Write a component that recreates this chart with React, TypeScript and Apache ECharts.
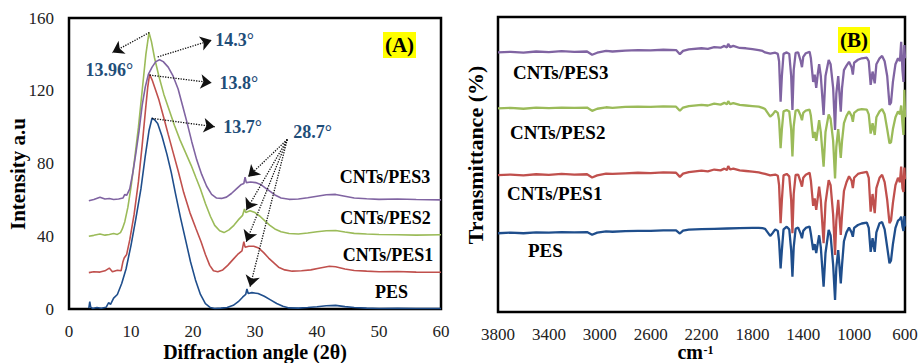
import React, { useEffect, useRef } from "react";
import * as echarts from "echarts";

// ---------- Panel A: XRD (angle 2θ, intensity a.u.) ----------
const xrdPES: [number, number][] = [
  [3.2, 0.5], [3.35, 4], [3.5, 1], [3.8, 0.3], [4.5, 0.8], [5.2, 0.4], [6.0, 1], [6.4, 3.5], [6.7, 2.5],
  [7.2, 6], [7.8, 8], [8.5, 14], [9.2, 22], [10.0, 35], [10.8, 50], [11.6, 66], [12.3, 84], [12.9, 98],
  [13.4, 105], [13.8, 104], [14.3, 102], [15.0, 95], [15.8, 85], [16.5, 75], [17.2, 63], [18.0, 50],
  [18.8, 38], [19.6, 26], [20.4, 16], [21.2, 8], [22.0, 3], [22.8, 0.8], [23.5, 0.3], [24.5, 0.5],
  [25.5, 0.8], [26.5, 2], [27.3, 4], [28.0, 6.5], [28.5, 8], [28.7, 11], [28.9, 8.5], [29.5, 9],
  [30.5, 8.5], [31.5, 7], [32.5, 5], [33.5, 3], [34.5, 1.5], [35.5, 0.6], [37, 0.5], [38.5, 0.8],
  [40, 1.2], [41.5, 1.8], [43, 2], [44.5, 1.3], [46, 0.8], [48, 0.5], [50, 0.3], [53, 0.4], [56, 0.3], [60, 0.3],
];
const xrdPES1: [number, number][] = [
  [3.2, 20], [4, 20.5], [5, 20.3], [5.8, 21], [6.5, 22.5], [7, 20.5], [7.8, 21.3], [8.4, 21], [8.7, 26],
  [8.9, 28], [9.3, 30], [9.8, 38], [10.5, 52], [11.2, 70], [11.8, 90], [12.3, 108], [12.7, 122], [13.0, 129],
  [13.4, 126], [13.8, 122], [14.5, 115], [15.3, 105], [16.0, 96], [16.8, 86], [17.6, 76], [18.5, 64],
  [19.5, 53], [20.5, 44], [21.3, 37], [22.0, 30], [22.7, 24], [23.3, 21], [24.0, 20.5], [24.8, 21.5],
  [25.6, 24], [26.4, 27], [27.2, 30], [27.9, 32], [28.2, 37], [28.4, 34], [29.0, 34.5], [29.8, 34.5],
  [30.6, 33.5], [31.4, 31], [32.2, 28], [33.0, 25.5], [33.8, 23], [34.8, 21.5], [36, 20.8], [37.5, 21],
  [39, 21.5], [40.5, 22.5], [42, 23.5], [43, 23.2], [44.5, 22], [46, 21.2], [48, 20.8], [50, 20.5],
  [53, 20.6], [56, 20.3], [60, 20.2],
];
const xrdPES2: [number, number][] = [
  [3.2, 40], [4, 40.5], [5, 41.2], [5.8, 40.6], [6.5, 41], [7.2, 41.5], [7.8, 41], [8.3, 42], [8.6, 44],
  [9.0, 48], [9.5, 56], [10.0, 67], [10.6, 83], [11.2, 100], [11.8, 120], [12.4, 140], [12.9, 152],
  [13.3, 147], [13.8, 138], [14.5, 128], [15.3, 118], [16.2, 109], [17.0, 101], [17.9, 93], [18.8, 86],
  [19.7, 79], [20.5, 72], [21.2, 66], [22.0, 58], [22.8, 51], [23.5, 46], [24.3, 43], [25.0, 42],
  [25.8, 43.5], [26.6, 46], [27.3, 49], [28.0, 51.5], [28.3, 55], [28.5, 53], [29.2, 54], [30.0, 53],
  [30.8, 51], [31.6, 48.5], [32.4, 46], [33.2, 44], [34.2, 42.5], [35.5, 41.5], [37, 41.2], [38.5, 41.8],
  [40, 42.5], [41.5, 43], [43, 43.2], [44.5, 42.3], [46, 41.6], [48, 41.2], [50, 41], [53, 40.8],
  [56, 40.6], [60, 40.8],
];
const xrdPES3: [number, number][] = [
  [3.2, 59.5], [4, 60.2], [5, 61.5], [5.8, 60.5], [6.5, 60.8], [7.2, 60.2], [8, 60.5], [8.7, 61], [9.0, 63],
  [9.3, 62.5], [9.8, 66], [10.3, 75], [10.8, 86], [11.3, 98], [11.8, 112], [12.3, 122], [12.8, 129],
  [13.4, 133], [14.0, 136], [14.6, 137], [15.2, 136], [16.0, 133], [16.8, 128], [17.6, 121], [18.3, 112],
  [19.0, 103], [19.8, 92], [20.6, 82], [21.4, 74], [22.2, 67.5], [23.0, 63], [23.8, 61], [24.6, 60.8],
  [25.4, 61.5], [26.2, 63.5], [27.0, 66], [27.8, 68.5], [28.2, 69], [28.4, 72.5], [28.6, 69.5],
  [29.3, 69.8], [30.1, 69.5], [30.9, 68.5], [31.7, 66.5], [32.5, 64.5], [33.3, 62.5], [34.2, 61],
  [35.5, 60.3], [37, 60.5], [38.5, 61.2], [40, 62], [41.5, 62.8], [43, 63], [44.5, 62], [46, 61],
  [48, 60.6], [50, 60.3], [53, 60.5], [56, 60.2], [60, 60],
];

// peak annotations: [label, labelX, labelY]
const xrdPeakLabels: [string, number, number][] = [
  ["13.96°", 6.5, 131.3],
  ["14.3°", 26.7, 147.8],
  ["13.8°", 27.4, 124.3],
  ["13.7°", 28.0, 99.8],
  ["28.7°", 39.3, 97.4],
];
// arrows: [fromX, fromY, toX, toY]
const xrdArrows: [number, number, number, number][] = [
  [12.95, 152, 7.0, 141],
  [14.3, 138.6, 23.0, 147.8],
  [13.0, 128.6, 23.0, 124.4],
  [13.4, 104.8, 23.5, 100.2],
  [35.2, 93.2, 28.9, 72.7],
  [35.2, 93.2, 28.6, 54.4],
  [35.2, 93.2, 28.6, 37.0],
  [35.2, 93.2, 29.2, 12.3],
];
const xrdTicksX = { min: 0, max: 60, interval: 10 };
const xrdTicksY = { min: 0, max: 160, interval: 40 };

// ---------- Panel B: FTIR (wavenumber cm-1, transmittance, offset) ----------
const ftirPES3: [number, number][] = [
  [3800, 88.0], [3700, 88.2], [3600, 87.9], [3500, 88.3], [3400, 88.1], [3300, 88.4], [3200, 88.2], [3100, 88.3],
  [3060, 87.2], [3020, 87.9], [2950, 88.5], [2900, 88.3], [2800, 88.6], [2700, 88.8], [2600, 88.7], [2500, 88.9],
  [2400, 88.8], [2370, 87.4], [2345, 88.5], [2300, 89.0], [2200, 89.4], [2150, 89.2], [2100, 89.8], [2050, 89.6],
  [2020, 90.2], [2000, 89.7], [1990, 90.9], [1975, 89.8], [1950, 90.2], [1900, 89.5], [1850, 89.4], [1800, 89.1],
  [1750, 88.8], [1720, 88.5], [1700, 88.0], [1660, 87.6], [1620, 87.9], [1600, 87.5], [1590, 85], [1578, 71.3],
  [1568, 80], [1555, 87.5], [1530, 88.0], [1510, 87.5], [1495, 80], [1485, 68.5], [1475, 82], [1460, 87.8],
  [1440, 88], [1420, 85], [1410, 83], [1400, 86.5], [1380, 87.7], [1350, 88.2], [1340, 86], [1322, 78],
  [1310, 80.5], [1298, 76], [1285, 81], [1275, 84], [1262, 80], [1240, 66.8], [1225, 80], [1200, 85.4],
  [1185, 84], [1165, 76], [1150, 61.7], [1140, 74], [1125, 80], [1105, 67.9], [1095, 76], [1080, 82],
  [1060, 83.5], [1040, 84.8], [1020, 83], [1010, 80.5], [1000, 84.5], [970, 85.5], [940, 86], [900, 86.2],
  [885, 85], [870, 77], [855, 81.5], [838, 77.5], [825, 84], [800, 86], [780, 86.8], [760, 85], [740, 80],
  [722, 70.2], [710, 71], [695, 78], [675, 84], [655, 86], [640, 85], [630, 91.6], [620, 82], [612, 78],
  [605, 90.5], [600, 86],
];
const ftirPES2: [number, number][] = [
  [3800, 69.0], [3700, 69.2], [3600, 68.9], [3500, 69.3], [3400, 69.1], [3300, 69.3], [3200, 69.2], [3100, 69.3],
  [3060, 68.2], [3020, 68.9], [2950, 69.4], [2900, 69.2], [2800, 69.5], [2700, 69.6], [2600, 69.5], [2500, 69.7],
  [2400, 69.6], [2370, 68.2], [2345, 69.3], [2300, 69.8], [2200, 70.2], [2150, 70.0], [2100, 70.6], [2050, 70.3],
  [2020, 70.9], [2000, 70.4], [1990, 71.5], [1975, 70.5], [1950, 70.8], [1900, 70.2], [1850, 70.0], [1800, 69.8],
  [1750, 69.6], [1720, 69.2], [1700, 68.8], [1680, 67.5], [1660, 66.2], [1640, 67], [1620, 68.2], [1600, 67.5],
  [1590, 65], [1578, 55.5], [1568, 62], [1555, 68], [1530, 68.5], [1510, 68], [1495, 62], [1485, 52.7],
  [1475, 63], [1460, 68.3], [1440, 68.5], [1420, 66.5], [1410, 65], [1400, 67.5], [1380, 68.3], [1350, 68.6],
  [1340, 66.5], [1322, 59], [1310, 61], [1298, 58], [1285, 62], [1275, 65], [1262, 61], [1240, 49.3],
  [1225, 61], [1200, 67], [1185, 65.5], [1165, 58], [1150, 45.3], [1140, 56], [1125, 62], [1105, 52.2],
  [1095, 58], [1080, 64], [1060, 66.5], [1040, 68], [1020, 66.5], [1010, 64.5], [1000, 67.5], [970, 68.5],
  [940, 68.8], [900, 68.6], [885, 67], [870, 60.5], [855, 64], [838, 60], [825, 66], [800, 68], [780, 68.8],
  [760, 67], [740, 62], [722, 57.2], [710, 57.5], [695, 62], [675, 66], [655, 68], [640, 67], [630, 70],
  [620, 64], [612, 60], [605, 75.3], [600, 66],
];
const ftirPES1: [number, number][] = [
  [3800, 46.4], [3700, 46.6], [3600, 46.3], [3500, 46.7], [3400, 46.5], [3300, 46.8], [3200, 46.6], [3100, 46.7],
  [3060, 45.6], [3020, 46.3], [2950, 46.9], [2900, 46.8], [2800, 47.0], [2700, 47.2], [2600, 47.1], [2500, 47.3],
  [2400, 47.2], [2370, 45.8], [2345, 46.9], [2300, 47.4], [2200, 47.9], [2150, 47.7], [2100, 48.3], [2050, 48.0],
  [2020, 48.6], [2000, 48.1], [1990, 49.5], [1975, 48.3], [1950, 48.6], [1900, 48.0], [1850, 47.8], [1800, 47.6],
  [1750, 47.3], [1720, 47.0], [1700, 46.8], [1660, 46.3], [1620, 46.6], [1600, 46.2], [1590, 43], [1578, 30.1],
  [1568, 38], [1555, 46.3], [1530, 46.8], [1510, 46], [1495, 38], [1485, 26.7], [1475, 40], [1460, 46.5],
  [1440, 46.6], [1420, 44], [1410, 42.5], [1400, 45.5], [1380, 46.5], [1350, 47.2], [1340, 44.5], [1322, 36],
  [1310, 38.5], [1298, 34.6], [1285, 39], [1275, 42.5], [1262, 38], [1240, 23.3], [1225, 37], [1200, 44.7],
  [1185, 43], [1165, 33], [1150, 19.3], [1140, 31], [1125, 38], [1105, 26.1], [1095, 33], [1080, 41],
  [1060, 44], [1040, 46], [1020, 44.5], [1010, 42], [1000, 45.5], [970, 46.8], [940, 47.2], [900, 47.5],
  [885, 45.5], [870, 34], [855, 40], [838, 33.5], [825, 42], [800, 45.5], [780, 46.5], [760, 44], [740, 38],
  [722, 30.1], [710, 31], [695, 37], [675, 43], [655, 45.5], [640, 44], [630, 49.3], [620, 42], [612, 40.7],
  [605, 49], [600, 45],
];
const ftirPES: [number, number][] = [
  [3800, 26.7], [3700, 26.9], [3600, 26.7], [3500, 27.0], [3400, 26.9], [3300, 27.1], [3200, 27.0], [3100, 27.1],
  [3060, 26.2], [3020, 26.9], [2950, 27.3], [2900, 27.2], [2800, 27.4], [2700, 27.5], [2600, 27.5], [2500, 27.7],
  [2400, 27.7], [2370, 26.6], [2345, 27.6], [2300, 27.9], [2200, 28.1], [2100, 28.2], [2000, 28.3], [1900, 28.4],
  [1800, 28.5], [1750, 28.5], [1720, 28.4], [1700, 28.2], [1680, 27.0], [1660, 25.8], [1640, 26.8], [1620, 28.0],
  [1600, 27.5], [1590, 24], [1578, 14.8], [1568, 21], [1555, 28], [1530, 28.9], [1510, 28], [1495, 21],
  [1485, 12], [1475, 22], [1460, 28.2], [1440, 28.6], [1420, 26.5], [1410, 25], [1400, 27.5], [1380, 28.5],
  [1350, 29], [1340, 26.5], [1322, 21], [1310, 23], [1298, 20], [1285, 23.5], [1275, 26], [1262, 22],
  [1240, 8.6], [1225, 20], [1200, 27.8], [1185, 26], [1165, 16], [1150, 4.1], [1140, 15], [1125, 21],
  [1105, 9.7], [1095, 16], [1080, 24], [1060, 27], [1040, 28.6], [1020, 27], [1010, 25.5], [1000, 28.5],
  [970, 29.5], [940, 30], [900, 30.3], [885, 28.5], [870, 20.4], [855, 25], [838, 20.4], [825, 27], [800, 30.1],
  [780, 30.5], [760, 28], [740, 22], [722, 16.5], [710, 17.5], [695, 23], [675, 28.5], [655, 31], [640, 31.5],
  [630, 32.3], [620, 29], [612, 27.5], [605, 32.5], [600, 29],
];
const ftirTicksX = { min: 600, max: 3800, interval: 400 };

const seriesNames = ["PES", "CNTs/PES1", "CNTs/PES2", "CNTs/PES3"];
const colors = ["#1F4E8C", "#C0504D", "#9BBB59", "#8064A2"];

const SERIF = "'Liberation Serif', 'Times New Roman', serif";
const LABEL_BLUE = "#1F4E79";

export default function App() {
  const ref = useRef<HTMLDivElement>(null);
  useEffect(() => {
    if (!ref.current) return;
    const chart = echarts.init(ref.current, null, { renderer: "svg" });
    const xrdData = [xrdPES, xrdPES1, xrdPES2, xrdPES3];
    const ftirData = [ftirPES, ftirPES1, ftirPES2, ftirPES3];

    const xrdSeries: any[] = xrdData.map((d, i) => ({
      type: "line",
      name: seriesNames[i],
      xAxisIndex: 0,
      yAxisIndex: 0,
      data: d,
      showSymbol: false,
      silent: true,
      z: 2 + i,
      lineStyle: { width: 1.6, color: colors[i] },
      itemStyle: { color: colors[i] },
    }));
    xrdSeries[0].markLine = {
      silent: true,
      symbol: ["none", "arrow"],
      symbolSize: 11,
      label: { show: false },
      lineStyle: { type: "dotted", color: "#111", width: 1.3 },
      itemStyle: { color: "#111" },
      data: xrdArrows.map(([x1, y1, x2, y2]) => [{ coord: [x1, y1] }, { coord: [x2, y2] }]),
      z: 10,
    };
    xrdSeries[0].markPoint = {
      silent: true,
      symbol: "rect",
      symbolSize: 1,
      itemStyle: { color: "rgba(0,0,0,0)" },
      label: {
        show: true,
        position: "inside",
        formatter: (p: any) => p.name,
        color: LABEL_BLUE,
        fontFamily: SERIF,
        fontWeight: "bold",
        fontSize: 18,
      },
      data: xrdPeakLabels.map(([t, x, y]) => ({ name: t, coord: [x, y] })),
    };

    const ftirSeries: any[] = ftirData.map((d, i) => ({
      type: "line",
      name: seriesNames[i],
      xAxisIndex: 1,
      yAxisIndex: 1,
      data: d,
      showSymbol: false,
      silent: true,
      z: 2 + i,
      lineStyle: { width: 2.3, color: colors[i] },
      itemStyle: { color: colors[i] },
    }));

    const tickLabel = { fontFamily: SERIF, fontSize: 17, color: "#222", formatter: (v: number) => String(v) };
    const txt = (text: string, x: number, y: number, align: string, size: number, bold = true, rotation = 0) => ({
      type: "text",
      x,
      y,
      rotation,
      z: 20,
      style: {
        text,
        fill: "#000",
        font: `${bold ? "bold " : ""}${size}px ${SERIF}`,
        textAlign: align,
        textVerticalAlign: "middle",
      },
    });

    chart.setOption({
      animation: false,
      textStyle: { fontFamily: SERIF },
      grid: [
        { left: 69, top: 18, width: 372, height: 291, show: true, borderColor: "#000", borderWidth: 2.5, backgroundColor: "#fff", containLabel: false, outerBoundsMode: "none" },
        { left: 498, top: 17, width: 407, height: 295, show: true, borderColor: "#000", borderWidth: 2.5, backgroundColor: "#fff", containLabel: false, outerBoundsMode: "none" },
      ],
      xAxis: [
        {
          gridIndex: 0,
          type: "value",
          ...xrdTicksX,
          axisLine: { show: false },
          axisTick: { show: false },
          splitLine: { show: false },
          axisLabel: { ...tickLabel, margin: 14 },
        },
        {
          gridIndex: 1,
          type: "value",
          ...ftirTicksX,
          inverse: true,
          axisLine: { show: false },
          axisTick: { show: false },
          splitLine: { show: false },
          axisLabel: { ...tickLabel, margin: 14 },
        },
      ],
      yAxis: [
        {
          gridIndex: 0,
          type: "value",
          ...xrdTicksY,
          axisLine: { show: false },
          axisTick: { show: false },
          splitLine: { show: false },
          axisLabel: { ...tickLabel, margin: 15 },
        },
        {
          gridIndex: 1,
          type: "value",
          min: 0,
          max: 100,
          axisLine: { show: false },
          axisTick: { show: false },
          splitLine: { show: false },
          axisLabel: { show: false },
        },
      ],
      series: [...xrdSeries, ...ftirSeries],
      graphic: [
        txt("Intensity a.u", 18, 174, "center", 21, true, Math.PI / 2),
        txt("Transmittance (%)", 475, 155, "center", 22, true, Math.PI / 2),
        txt("Diffraction angle (2θ)", 255, 352, "center", 20),
        txt("cm", 703, 352, "right", 20),
        txt("-1", 703.5, 349.5, "left", 12),
        { type: "rect", shape: { x: 383, y: 32, width: 33, height: 26 }, style: { fill: "#FFFF00" }, z: 19 },
        txt("(A)", 399.5, 45, "center", 21),
        { type: "rect", shape: { x: 838, y: 27, width: 32, height: 26 }, style: { fill: "#FFFF00" }, z: 19 },
        txt("(B)", 854, 40, "center", 21),
        txt("CNTs/PES3", 385, 177, "center", 18),
        txt("CNTs/PES2", 385.5, 218, "center", 18),
        txt("CNTs/PES1", 388, 255, "center", 18),
        txt("PES", 391.5, 292, "center", 18),
        txt("CNTs/PES3", 513, 72, "left", 19),
        txt("CNTs/PES2", 510, 132, "left", 19),
        txt("CNTs/PES1", 507, 193, "left", 19),
        txt("PES", 528, 250, "left", 19),
      ],
    });
    return () => chart.dispose();
  }, []);
  return (
    <div
      ref={ref}
      style={{ position: "fixed", left: 0, top: 0, width: 918, height: 363, background: "#fff" }}
    />
  );
}
